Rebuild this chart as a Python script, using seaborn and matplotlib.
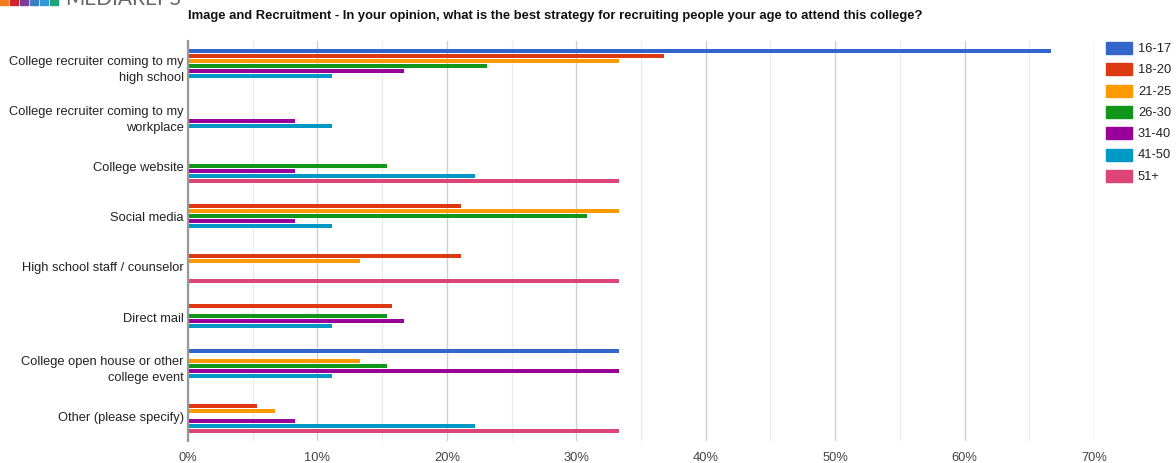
import matplotlib
matplotlib.use("Agg")
import matplotlib.pyplot as plt
from matplotlib.patches import Rectangle
from matplotlib.ticker import MultipleLocator, FuncFormatter
import seaborn as sns
import pandas as pd

# Survey answers (percent of respondents per age group)
categories = [
    "College recruiter coming to my\nhigh school",
    "College recruiter coming to my\nworkplace",
    "College website",
    "Social media",
    "High school staff / counselor",
    "Direct mail",
    "College open house or other\ncollege event",
    "Other (please specify)",
]
age_groups = ["16-17", "18-20", "21-25", "26-30", "31-40", "41-50", "51+"]

pct_16_17 = [66.7, 0, 0, 0, 0, 0, 33.3, 0]
pct_18_20 = [36.8, 0, 0, 21.1, 21.1, 15.8, 0, 5.3]
pct_21_25 = [33.3, 0, 0, 33.3, 13.3, 0, 13.3, 6.7]
pct_26_30 = [23.1, 0, 15.4, 30.8, 0, 15.4, 15.4, 0]
pct_31_40 = [16.7, 8.3, 8.3, 8.3, 0, 16.7, 33.3, 8.3]
pct_41_50 = [11.1, 11.1, 22.2, 11.1, 0, 11.1, 11.1, 22.2]
pct_51_up = [0, 0, 33.3, 0, 33.3, 0, 0, 33.3]

x_ticks = [0, 10, 20, 30, 40, 50, 60, 70]

title = ("Image and Recruitment - In your opinion, what is the best strategy "
         "for recruiting people your age to attend this college?")

colors = ["#3366cc", "#dc3912", "#ff9900", "#109618", "#990099", "#0099c6", "#dd4477"]

series = [pct_16_17, pct_18_20, pct_21_25, pct_26_30, pct_31_40, pct_41_50, pct_51_up]
rows = []
for grp, vals in zip(age_groups, series):
    for cat, v in zip(categories, vals):
        rows.append({"category": cat, "age": grp, "pct": v})
df = pd.DataFrame(rows)

sns.set_theme(style="white")
plt.rcParams["font.family"] = ["Liberation Sans", "DejaVu Sans"]

W, H = 1176, 464
fig = plt.figure(figsize=(W / 100, H / 100), dpi=100)
ax = fig.add_axes([188 / W, 1 - 442 / H, (1094 - 188) / W, 400 / H])

sns.barplot(
    data=df, y="category", x="pct", hue="age", order=categories,
    hue_order=age_groups, palette=colors, orient="h", width=0.7,
    gap=0.18, ax=ax, legend=False, linewidth=0, saturation=1,
)

ax.set_xlim(0, 70)
ax.set_ylim(len(categories) - 0.5, -0.5)
ax.xaxis.set_minor_locator(MultipleLocator(5))
ax.set_xticks(x_ticks)
ax.xaxis.set_major_formatter(FuncFormatter(lambda v, _: f"{v:.0f}%"))
ax.grid(which="major", axis="x", color="#cfcfcf", linewidth=1)
ax.grid(which="minor", axis="x", color="#ececec", linewidth=1)
ax.set_axisbelow(True)
for s in ["top", "right", "bottom"]:
    ax.spines[s].set_visible(False)
ax.spines["left"].set_color("#999999")
ax.spines["left"].set_linewidth(1.6)
ax.tick_params(axis="x", which="both", length=0, labelsize=9.3, labelcolor="#444444", pad=7)
ax.tick_params(axis="y", length=0, labelsize=9.3, labelcolor="#222222", pad=3)
for lbl in ax.get_yticklabels():
    lbl.set_linespacing(1.4)
ax.set_xlabel("")
ax.set_ylabel("")

fig.text(188 / W, 1 - 16 / H, title, fontsize=9.4, fontweight="bold",
         color="#111111", va="center", ha="left")

# Brand mark at the top-left corner
logo_colors = ["#f47b20", "#d2232a", "#7d3c98", "#3b7fc4", "#2e9ad6", "#1fa37a"]
for i, c in enumerate(logo_colors):
    fig.patches.append(Rectangle(((i * 10) / W, 1 - 6 / H), 8 / W, 8 / H,
                                 transform=fig.transFigure, color=c))
fig.text(65 / W, 1 - 5 / H, "MEDIAREPS", fontsize=15, color="#666666",
         va="baseline", ha="left", family=["Lato", "DejaVu Sans"])

# Legend
for i, (grp, c) in enumerate(zip(age_groups, colors)):
    yc = 49 + i * 21.3
    fig.patches.append(Rectangle((1106 / W, 1 - (yc + 6) / H), 26 / W, 12 / H,
                                 transform=fig.transFigure, color=c))
    fig.text(1138 / W, 1 - yc / H, grp, fontsize=9.3, color="#222222",
             va="center", ha="left")

fig.savefig("out.png", dpi=100)
